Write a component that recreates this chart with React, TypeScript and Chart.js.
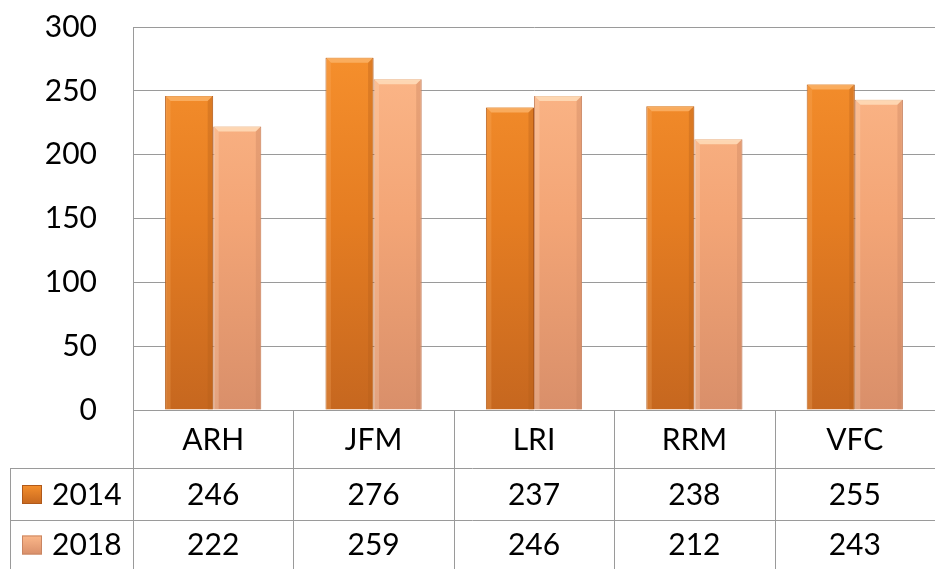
import React, { useEffect, useRef } from "react";
import { Chart, registerables } from "chart.js";

Chart.register(...registerables);

const categories = ["ARH", "JFM", "LRI", "RRM", "VFC"];
const seriesNames = ["2014", "2018"];
const values2014 = [246, 276, 237, 238, 255];
const values2018 = [222, 259, 246, 212, 243];
const yTicks = [0, 50, 100, 150, 200, 250, 300];

const FONT = "Lato, 'Open Sans', sans-serif";
const FONT_SIZE = 30;
const GRID = "#9a9a9a";

const palettes = [
  { top: "#F8922E", mid: "#E57D22", bottom: "#C6671F", border: "#B0591A", light: "#FBB46A", dark: "#B55E1B" },
  { top: "#FDBA8C", mid: "#F3A576", bottom: "#D98F6A", border: "#C98562", light: "#FFE0BE", dark: "#C7805E" },
];

function gradientFor(chart: any, idx: number) {
  const area = chart.chartArea;
  const p = palettes[idx];
  if (!area) return p.mid;
  const g = chart.ctx.createLinearGradient(0, area.top, 0, area.bottom);
  g.addColorStop(0, p.top);
  g.addColorStop(0.5, p.mid);
  g.addColorStop(1, p.bottom);
  return g;
}

const bevelPlugin = {
  id: "bevel",
  afterDatasetsDraw(chart: any) {
    const ctx = chart.ctx;
    chart.data.datasets.forEach((_: any, di: number) => {
      const meta = chart.getDatasetMeta(di);
      const p = palettes[di];
      meta.data.forEach((bar: any) => {
        const { x, y, base, width } = bar.getProps(["x", "y", "base", "width"], true);
        const l = x - width / 2 + 0.5;
        const r = x + width / 2 - 0.5;
        const b = 5;
        ctx.save();
        ctx.fillStyle = p.light;
        ctx.globalAlpha = 0.8;
        ctx.beginPath();
        ctx.moveTo(l, y);
        ctx.lineTo(r, y);
        ctx.lineTo(r - b, y + b);
        ctx.lineTo(l + b, y + b);
        ctx.closePath();
        ctx.fill();
        ctx.globalAlpha = 0.25;
        ctx.beginPath();
        ctx.moveTo(l, y);
        ctx.lineTo(l + b, y + b);
        ctx.lineTo(l + b, base);
        ctx.lineTo(l, base);
        ctx.closePath();
        ctx.fill();
        ctx.fillStyle = p.dark;
        ctx.globalAlpha = 0.35;
        ctx.beginPath();
        ctx.moveTo(r, y);
        ctx.lineTo(r - b, y + b);
        ctx.lineTo(r - b, base);
        ctx.lineTo(r, base);
        ctx.closePath();
        ctx.fill();
        ctx.restore();
      });
    });
  },
};

const tablePlugin = {
  id: "dataTable",
  afterDraw(chart: any) {
    const ctx = chart.ctx;
    const area = chart.chartArea;
    const xScale = chart.scales.x;
    const n = categories.length;
    const catW = (area.right - area.left) / n;
    const tableTop = area.bottom;
    const row1 = tableTop + 58;
    const row2 = row1 + 52;
    const bottom = chart.height;
    const leftEdge = 10;
    ctx.save();
    ctx.strokeStyle = GRID;
    ctx.lineWidth = 1;
    [row1, row2].forEach((yy) => {
      ctx.beginPath();
      ctx.moveTo(leftEdge, Math.round(yy) + 0.5);
      ctx.lineTo(area.right, Math.round(yy) + 0.5);
      ctx.stroke();
    });
    for (let i = 0; i <= n; i++) {
      const xx = Math.round(area.left + i * catW) + 0.5;
      ctx.beginPath();
      ctx.moveTo(xx, tableTop);
      ctx.lineTo(xx, bottom);
      ctx.stroke();
    }
    ctx.beginPath();
    ctx.moveTo(leftEdge + 0.5, row1);
    ctx.lineTo(leftEdge + 0.5, bottom);
    ctx.stroke();

    ctx.fillStyle = "#000";
    ctx.font = `${FONT_SIZE}px ${FONT}`;
    ctx.textAlign = "center";
    ctx.textBaseline = "middle";
    categories.forEach((c, i) => {
      const cx = xScale.getPixelForValue(i);
      ctx.fillText(c, cx, (tableTop + row1) / 2 + 1);
      ctx.fillText(String(values2014[i]), cx, (row1 + row2) / 2 + 1);
      ctx.fillText(String(values2018[i]), cx, (row2 + bottom) / 2 + 1);
    });
    const rows = [(row1 + row2) / 2, (row2 + bottom) / 2];
    seriesNames.forEach((s, i) => {
      const cy = rows[i];
      const p = palettes[i];
      const g = ctx.createLinearGradient(0, cy - 10, 0, cy + 10);
      g.addColorStop(0, p.top);
      g.addColorStop(1, p.bottom);
      ctx.fillStyle = g;
      ctx.fillRect(22, cy - 9, 20, 19);
      ctx.strokeStyle = p.border;
      ctx.strokeRect(22.5, cy - 8.5, 19, 18);
      ctx.fillStyle = "#000";
      ctx.textAlign = "left";
      ctx.fillText(s, 52, cy + 1);
    });
    ctx.restore();
  },
};

export default function App() {
  const ref = useRef<HTMLCanvasElement>(null);
  useEffect(() => {
    if (!ref.current) return;
    const chart = new Chart(ref.current, {
      type: "bar",
      data: {
        labels: categories,
        datasets: [
          {
            label: seriesNames[0],
            data: values2014,
            backgroundColor: (c: any) => gradientFor(c.chart, 0),
            borderColor: palettes[0].border,
            borderWidth: 1,
          },
          {
            label: seriesNames[1],
            data: values2018,
            backgroundColor: (c: any) => gradientFor(c.chart, 1),
            borderColor: palettes[1].border,
            borderWidth: 1,
          },
        ],
      },
      options: {
        responsive: true,
        maintainAspectRatio: false,
        animation: false,
        layout: { padding: { top: 27, bottom: 159, left: 0, right: 0 } },
        datasets: { bar: { categoryPercentage: 0.6, barPercentage: 1 } },
        plugins: { legend: { display: false }, tooltip: { enabled: false } },
        scales: {
          x: { display: false },
          y: {
            min: 0,
            max: 300,
            afterFit: (s: any) => {
              s.width = 133;
              s.paddingTop = 0;
              s.paddingBottom = 0;
            },
            afterBuildTicks: (s: any) => {
              s.ticks = yTicks.map((v) => ({ value: v }));
            },
            border: { display: true, color: GRID },
            grid: { color: GRID, drawTicks: false },
            ticks: {
              color: "#000",
              padding: 36,
              font: { family: FONT, size: FONT_SIZE },
            },
          },
        },
      },
      plugins: [bevelPlugin, tablePlugin],
    });
    return () => chart.destroy();
  }, []);
  return (
    <div style={{ position: "absolute", left: 0, top: 0, width: 935, height: 569, background: "#fff" }}>
      <canvas ref={ref} />
    </div>
  );
}
